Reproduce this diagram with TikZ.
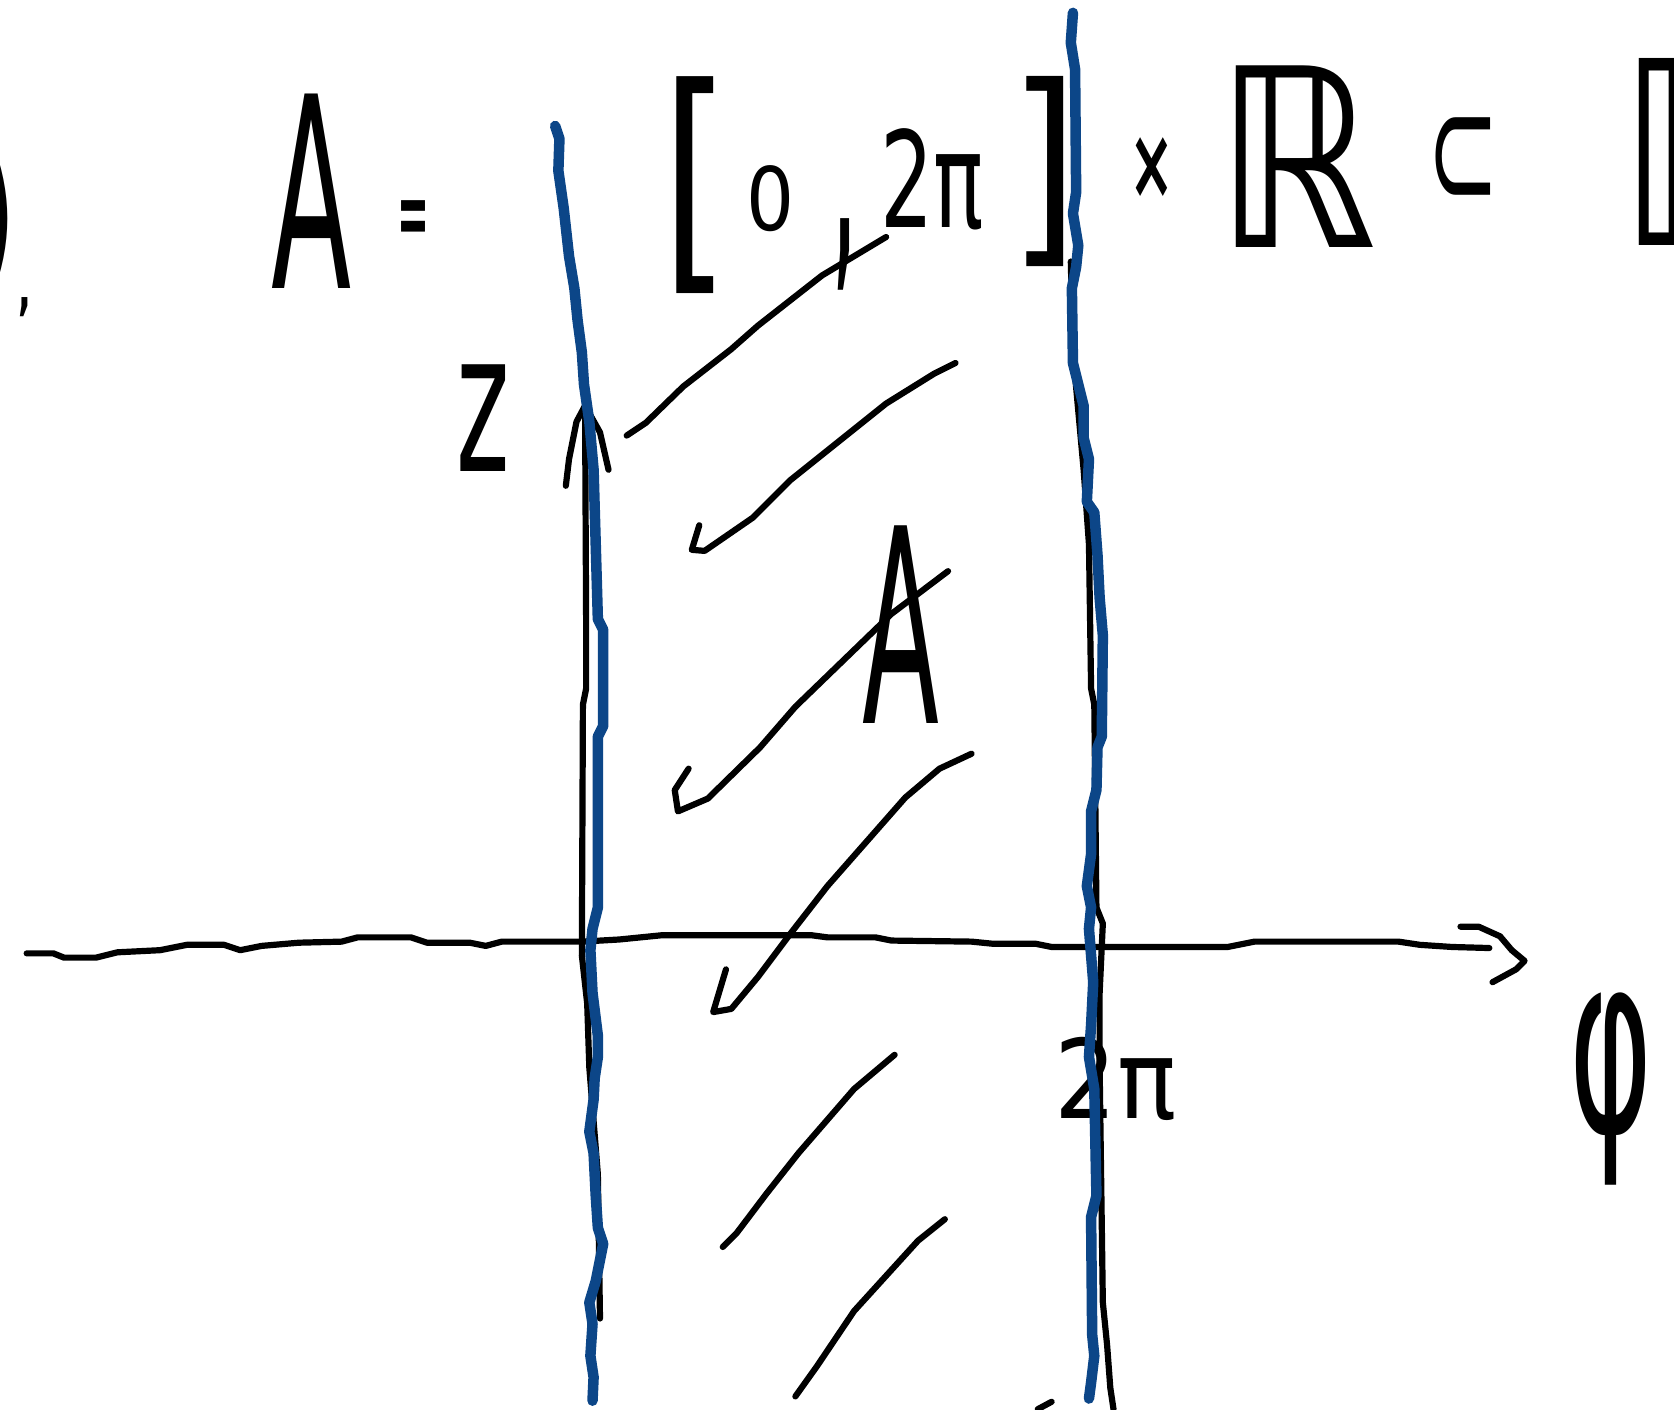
\documentclass[tikz,border=0pt]{standalone}
\usepackage{graphicx}
\usepackage{fontspec}
\newfontfamily\hand{DejaVu Sans}
\newfontfamily\handb{DejaVu Sans Bold}
\definecolor{penblue}{RGB}{12,70,136}
\newlength\unitlen
\setlength\unitlen{1.0676pt}
\newcommand\hw[3]{\resizebox*{#1\unitlen}{#2\unitlen}{#3}}
\tikzset{
  glyph/.style={inner sep=0pt, outer sep=0pt},
  pen/.style={line width=6.2pt, line cap=round, line join=round, black},
  bluepen/.style={line width=10.5pt, line cap=round, line join=round, penblue},
}
\begin{document}
\begin{tikzpicture}[x=1.0676pt, y=-1.0676pt]
\useasboundingbox (0,0) rectangle (1568,1320);
\fill[white] (0,0) rectangle (1568,1320);
% ---- top formula ----
\node[glyph] (paren) at (-4,205) {\hw{40}{150}{\hand )}};
\node[glyph] (comma0) at (23,288) {\hw{12}{18}{\handb ,}};
\node[glyph] (Atop) at (292,179) {\hw{75}{182}{\hand A}};
\node[glyph] (eq) at (387,209) {\hw{30}{42}{\handb =}};
\node[glyph] (lbr) at (652,173) {\hw{65}{203}{\hand [}};
\node[glyph] (zero) at (722,186) {\hw{45}{62}{\hand 0}};
\node[glyph] (comma) at (792,238) {\hw{18}{67}{\handb ,}};
\node[glyph] (twopi) at (873,168) {\hw{97}{95}{\hand 2π}};
\node[glyph] (rbr) at (978,161) {\hw{65}{178}{\hand ]}};
\node[glyph] (times) at (1079,157) {\hw{42}{57}{\handb ×}};
\node[glyph] (R1) at (1215,147) {\hw{150}{170}{\hand ℝ}};
\node[glyph] (subset) at (1371,153) {\hw{67}{85}{\hand ⊂}};
\node[glyph] (R2) at (1592,142) {\hw{150}{175}{\hand ℝ}};
% ---- labels ----
\node[glyph] (zlab) at (453,392) {\hw{50}{100}{\hand z}};
\node[glyph] (Amid) at (844,585) {\hw{72}{185}{\hand A}};
\node[glyph] (twopib) at (1045,1011) {\hw{114}{78}{\hand 2π}};
\node[glyph] (philab) at (1509,1020) {\hw{78}{180}{\hand φ}};
% ---- hatching ----
\draw[pen] (587,408) -- (605,396) -- (640,362) -- (685,327) -- (710,305) -- (770,258) -- (830,222);
\draw[pen] (895,340) -- (875,350) -- (830,378) -- (740,450) -- (705,485) -- (660,516) -- (648,515) -- (655,492);
\draw[pen] (888,535) -- (835,575) -- (745,662) -- (712,700) -- (663,748) -- (635,760) -- (632,740) -- (645,720);
\draw[pen] (910,706) -- (880,720) -- (848,747) -- (775,830) -- (740,875) -- (710,915) -- (685,945) -- (668,948) -- (680,908);
\draw[pen] (838,988) -- (800,1020) -- (748,1080) -- (718,1118) -- (690,1155) -- (677,1168);
\draw[pen] (885,1142) -- (860,1162) -- (800,1228) -- (765,1280) -- (745,1308);
\draw[pen] (972,1320) -- (985,1313);
% ---- horizontal axis ----
\coordinate (xstart) at (25,893);
\coordinate (xtip) at (1428,900);
\draw[pen] (xstart) -- (50,893) -- (60,897) -- (90,897) -- (110,892) -- (150,890) -- (175,885) -- (210,885) -- (225,890) -- (245,886) -- (280,883) -- (320,882) -- (335,878) -- (385,878) -- (400,883) -- (440,883) -- (455,886) -- (470,882) -- (545,882) -- (580,880) -- (620,876) -- (760,876) -- (775,878) -- (820,878) -- (835,881) -- (910,882) -- (930,884) -- (970,884) -- (985,887) -- (1150,887) -- (1175,882) -- (1310,882) -- (1330,885) -- (1360,887) -- (1395,888);
\draw[pen] (1368,868) -- (1385,868) -- (1405,877) -- (1416,890) -- (xtip) -- (1420,908) -- (1398,920);
% ---- vertical axis (black) ----
\coordinate (ztip) at (548,380);
\draw[pen] (ztip) -- (549,580) -- (549,645) -- (546,660) -- (545,895) -- (550,940) -- (552,1000) -- (560,1100) -- (562,1235);
\draw[pen] (530,455) -- (533,430) -- (540,395) -- (ztip) -- (562,405) -- (570,440);
% ---- right black line ----
\draw[pen] (1003,245) -- (1005,330) -- (1015,440) -- (1020,510) -- (1022,645) -- (1025,660) -- (1027,850) -- (1033,865) -- (1030,930) -- (1030,1000) -- (1033,1220) -- (1037,1260) -- (1040,1300) -- (1043,1320);
% ---- blue lines ----
\draw[bluepen] (520,118) -- (524,130) -- (523,160) -- (528,195) -- (533,240) -- (538,270) -- (541,300) -- (545,330) -- (547,360) -- (552,395) -- (556,440) -- (560,580) -- (565,590) -- (565,680) -- (560,690) -- (560,850) -- (555,870) -- (553,890) -- (555,930) -- (560,970) -- (560,990) -- (557,1010) -- (556,1030) -- (552,1060) -- (556,1080) -- (558,1120) -- (560,1150) -- (565,1165) -- (558,1200) -- (552,1220) -- (555,1240) -- (553,1270) -- (556,1290) -- (555,1312);
\draw[bluepen] (1005,12) -- (1003,40) -- (1007,65) -- (1008,180) -- (1005,200) -- (1010,230) -- (1008,250) -- (1004,270) -- (1005,340) -- (1010,360) -- (1015,380) -- (1015,410) -- (1020,430) -- (1018,470) -- (1025,480) -- (1028,520) -- (1030,560) -- (1033,595) -- (1032,690) -- (1028,700) -- (1027,740) -- (1022,760) -- (1022,800) -- (1018,830) -- (1022,850) -- (1020,870) -- (1024,920) -- (1022,960) -- (1020,990) -- (1025,1020) -- (1027,1120) -- (1022,1140) -- (1023,1250) -- (1025,1270) -- (1022,1295) -- (1020,1310);
\end{tikzpicture}
\end{document}
